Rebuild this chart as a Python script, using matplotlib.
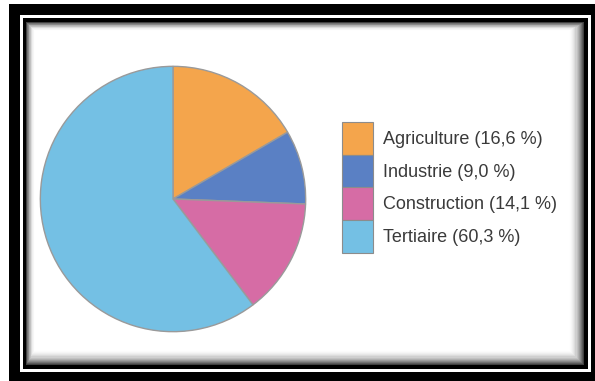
import matplotlib.pyplot as plt
from matplotlib.patches import Rectangle, Patch

plt.rcParams['font.family'] = ['Liberation Sans', 'DejaVu Sans']

# Data
secteurs = ["Agriculture", "Industrie", "Construction", "Tertiaire"]
parts = [16.6, 9.0, 14.1, 60.3]
couleurs = ["#F4A54C", "#5A80C4", "#D66CA5", "#74C0E4"]

W, H = 595, 381
fig = plt.figure(figsize=(W / 100, H / 100), dpi=100)
fig.patch.set_facecolor("white")


def box(x0, y0, x1, y1, **kw):
    # rectangle in pixel coords, y from top
    fig.patches.append(Rectangle((x0 / W, 1 - y1 / H), (x1 - x0) / W, (y1 - y0) / H,
                                 transform=fig.transFigure, figure=fig, zorder=-10, **kw))


# frame: thick black, thin white, thin black, then shaded inner panel
box(9, 4, 595, 381, facecolor="black", edgecolor="none")
box(20, 15, 591, 372, facecolor="white", edgecolor="none")
box(23, 18, 588, 369, facecolor="black", edgecolor="none")
steps = 14
for i in range(steps + 1):
    t = i / steps
    g = 0.25 + 0.75 * (1 - (1 - t) ** 2)
    box(26 + 9 * t, 22 + 9 * t, 584 - 15 * t, 365 - 15 * t,
        facecolor=(g, g, g), edgecolor="none")

# pie
cx, cy, r = 173, 199, 134
ax = fig.add_axes([(cx - r) / W, 1 - (cy + r) / H, 2 * r / W, 2 * r / H])
ax.pie(parts, colors=couleurs, startangle=90, counterclock=False,
       wedgeprops=dict(edgecolor="#9a9a9a", linewidth=1.0))
ax.set_xlim(-1.01, 1.01)
ax.set_ylim(-1.01, 1.01)
ax.set_aspect("equal")
ax.axis("off")

# legend
labels = [f"{s} ({str(p).replace('.', ',')} %)" for s, p in zip(secteurs, parts)]
handles = [Patch(facecolor=c, edgecolor="#8c8c8c", linewidth=0.8) for c in couleurs]
fs = 13
px = fs * 100 / 72
fig.legend(handles, labels, loc="upper left", bbox_to_anchor=(342 / W, 1 - 122 / H),
           frameon=False, fontsize=fs, labelspacing=0, handlelength=31 / px,
           handleheight=33 / px * 33 / 25, handletextpad=10 / px, borderpad=0,
           borderaxespad=0, labelcolor="#3a3a3a")

plt.savefig("out.png", dpi=100)
